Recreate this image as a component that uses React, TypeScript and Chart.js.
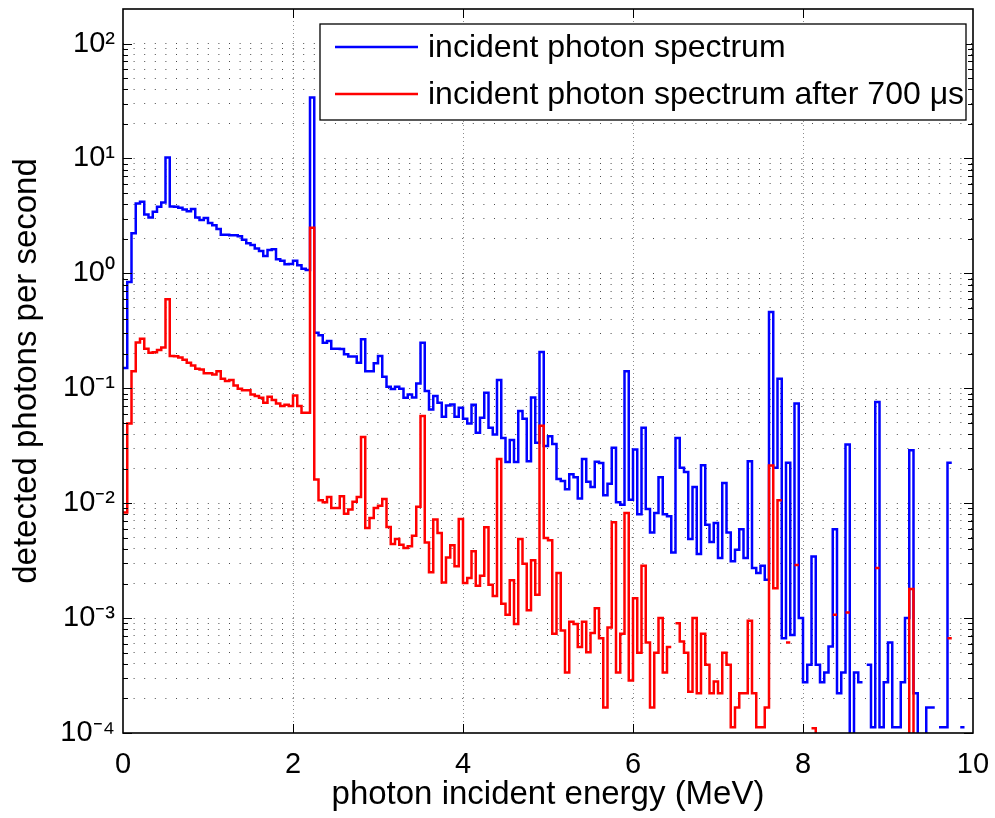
import React, { useEffect, useRef } from 'react';
import { Chart, registerables } from 'chart.js';

Chart.register(...registerables);

// ---- data (bin width 0.05 MeV, 200 bins from 0 to 10 MeV) ----
const BIN_WIDTH_MEV = 0.05;

const INCIDENT_SPECTRUM: (number | null)[] = [
  0.15, 0.84, 2.23, 4.06, 4.2, 3.26, 3.07, 3.44, 3.8, 4.15,
  10.2, 3.83, 3.8, 3.72, 3.6, 3.47, 3.63, 3.07, 2.91, 3.03,
  2.74, 2.63, 2.43, 2.17, 2.17, 2.15, 2.15, 2.1, 1.96, 1.83,
  1.77, 1.65, 1.57, 1.42, 1.6, 1.62, 1.33, 1.29, 1.2, 1.21,
  1.29, 1.18, 1.1, 1.07, 34, 0.305, 0.289, 0.249, 0.258, 0.221,
  0.221, 0.22, 0.198, 0.189, 0.189, 0.167, 0.267, 0.141, 0.141, 0.165,
  0.191, 0.126, 0.103, 0.0987, 0.103, 0.099, 0.0828, 0.0884, 0.083, 0.11,
  0.249, 0.0946, 0.0654, 0.0857, 0.075, 0.0565, 0.071, 0.0724, 0.0565, 0.0677,
  0.0543, 0.0494, 0.072, 0.041, 0.0554, 0.0916, 0.0453, 0.0396, 0.118, 0.037,
  0.0228, 0.0354, 0.0228, 0.0634, 0.0543, 0.0232, 0.083, 0.0336, 0.207, 0.0314,
  0.0383, 0.0327, 0.0162, 0.0156, 0.0132, 0.0179, 0.0168, 0.011, 0.0242, 0.0154,
  0.0138, 0.0229, 0.0224, 0.0117, 0.0148, 0.0304, 0.0102, 0.0097, 0.141, 0.0107,
  0.0293, 0.008, 0.0453, 0.0089, 0.00557, 0.0082, 0.0168, 0.008, 0.0077, 0.00373,
  0.037, 0.0203, 0.0187, 0.00488, 0.0138, 0.00361, 0.0214, 0.0065, 0.0046, 0.00673,
  0.00333, 0.015, 0.00557, 0.00312, 0.00394, 0.00593, 0.00333, 0.0232, 0.00273, 0.00247,
  0.00286, 0.00216, 0.461, 0.0203, 0.121, 0.000668, 0.0225, 0.000714, 0.0738, 0.001,
  0.000277, 0.000392, 0.00344, 0.000392, 0.000277, 0.000336, 0.000566, 0.00593, 0.000222, 0.000336,
  0.0325, 0.00005, 0.000336, 0.000277, null, 0.000392, 0.000112, 0.0758, 0.000112, 0.000277,
  0.000613, 0.000112, 0.000112, 0.000277, 0.001, 0.0289, 0.000222, 0.00005, 0.00005, 0.000167,
  0.000167, null, 0.000112, 0.000112, 0.0225, null, null, 0.000112, null, null,
];

const AFTER_700US_SPECTRUM: (number | null)[] = [
  0.0083, 0.0494, 0.141, 0.25, 0.27, 0.221, 0.204, 0.206, 0.215, 0.226,
  0.596, 0.191, 0.19, 0.185, 0.177, 0.167, 0.158, 0.148, 0.146, 0.135,
  0.135, 0.132, 0.141, 0.121, 0.116, 0.118, 0.106, 0.099, 0.096, 0.096,
  0.0884, 0.0855, 0.0828, 0.0748, 0.0845, 0.0789, 0.0737, 0.07, 0.072, 0.07,
  0.0867, 0.07, 0.0612, 0.0612, 2.5, 0.0161, 0.0106, 0.0102, 0.0113, 0.0091,
  0.0091, 0.0115, 0.0081, 0.0088, 0.0103, 0.0113, 0.0376, 0.00608, 0.00744, 0.0091,
  0.00952, 0.0109, 0.00621, 0.00441, 0.00488, 0.00435, 0.00407, 0.00421, 0.00522, 0.00929,
  0.0573, 0.00456, 0.0025, 0.0072, 0.00551, 0.00204, 0.00337, 0.0043, 0.00282, 0.0073,
  0.00202, 0.00223, 0.00381, 0.00191, 0.00234, 0.00617, 0.00195, 0.00156, 0.0243, 0.00133,
  0.00107, 0.00213, 0.00089, 0.00488, 0.00297, 0.00117, 0.00318, 0.0016, 0.0473, 0.00498,
  0.00475, 0.00073, 0.00247, 0.00078, 0.000336, 0.00093, 0.00089, 0.000559, 0.00093, 0.000505,
  0.00074, 0.00122, 0.000668, 0.000167, 0.00083, 0.00682, 0.000336, 0.00073, 0.0082, 0.000286,
  0.00149, 0.0005, 0.00286, 0.000613, 0.000167, 0.0005, 0.001, 0.000336, 0.000559, null,
  0.0009, 0.000625, 0.0005, 0.000229, 0.001, 0.000222, 0.00073, 0.000392, 0.000222, 0.00028,
  0.000222, 0.0005, 0.000392, 0.000112, 0.000167, 0.000222, 0.000222, 0.00095, 0.000222, 0.000112,
  0.000112, 0.000167, 0.0213, 0.00182, 0.0106, null, 0.000613, null, 0.0029, null,
  null, null, 0.00011, 0.00005, null, null, null, 0.00107, null, null,
  0.00112, null, null, null, null, null, null, 0.00273, null, null,
  null, null, null, null, 0.00003, 0.00179, 0.00003, null, null, null,
  null, null, null, null, 0.000668, null, null, null, null, null,
];

const SERIES_LABELS = ['incident photon spectrum', 'incident photon spectrum after 700 \u03bcs'];
const SERIES_COLORS = ['#0000ff', '#ff0000'];
const X_TICKS = [0, 2, 4, 6, 8, 10];
const Y_DECADES = [-4, -3, -2, -1, 0, 1, 2];
const Y_MIN = 1e-4;
const Y_MAX = 200;
const X_TITLE = 'photon incident energy (MeV)';
const Y_TITLE = 'detected photons per second';

const FONT = '"Liberation Sans", Arial, Helvetica, sans-serif';

const SUP: Record<string, string> = {
  '-': '\u207b', '0': '\u2070', '1': '\u00b9', '2': '\u00b2', '3': '\u00b3',
  '4': '\u2074', '5': '\u2075', '6': '\u2076', '7': '\u2077', '8': '\u2078', '9': '\u2079',
};
const decadeLabel = (e: number) => '10' + String(e).split('').map((c) => SUP[c] || c).join('');

function stairs(values: (number | null)[]) {
  const pts: { x: number; y: number | null }[] = [];
  values.forEach((v, i) => {
    pts.push({ x: i * BIN_WIDTH_MEV, y: v });
    pts.push({ x: (i + 1) * BIN_WIDTH_MEV, y: v });
  });
  return pts;
}

function isDecade(v: number) {
  const l = Math.log10(v);
  return Math.abs(l - Math.round(l)) < 1e-6;
}

const framePlugin = {
  id: 'matlabFrame',
  afterDatasetsDraw(chart: any) {
    const { ctx, chartArea } = chart;
    const { left, right, top, bottom } = chartArea;
    const xs = chart.scales.x;
    const ys = chart.scales.y;
    ctx.save();
    ctx.strokeStyle = '#000';
    ctx.lineWidth = 1;
    ctx.beginPath();
    X_TICKS.forEach((v) => {
      if (v === X_TICKS[0] || v === X_TICKS[X_TICKS.length - 1]) return;
      const px = Math.round(xs.getPixelForValue(v)) + 0.5;
      ctx.moveTo(px, bottom);
      ctx.lineTo(px, bottom - 9);
      ctx.moveTo(px, top);
      ctx.lineTo(px, top + 9);
    });
    ys.ticks.forEach((t: any) => {
      const py = Math.round(ys.getPixelForValue(t.value)) + 0.5;
      const len = isDecade(t.value) ? 9 : 5;
      ctx.moveTo(left, py);
      ctx.lineTo(left + len, py);
      ctx.moveTo(right, py);
      ctx.lineTo(right - len, py);
    });
    ctx.stroke();
    ctx.lineWidth = 1.6;
    ctx.strokeRect(left, top, right - left, bottom - top);
    ctx.restore();
  },
  afterDraw(chart: any) {
    const { ctx } = chart;
    const bx = 320, by = 24, bw = 646, bh = 96;
    ctx.save();
    ctx.fillStyle = '#fff';
    ctx.fillRect(bx, by, bw, bh);
    ctx.strokeStyle = '#000';
    ctx.lineWidth = 1.3;
    ctx.strokeRect(bx, by, bw, bh);
    ctx.font = `32px ${FONT}`;
    ctx.textBaseline = 'middle';
    ctx.textAlign = 'left';
    const rowsY = [47, 94];
    chart.data.datasets.forEach((ds: any, i: number) => {
      const y = rowsY[i];
      ctx.strokeStyle = ds.borderColor;
      ctx.lineWidth = 2.5;
      ctx.beginPath();
      ctx.moveTo(335, y);
      ctx.lineTo(418, y);
      ctx.stroke();
      ctx.fillStyle = '#000';
      ctx.fillText(ds.label, 428, y + 1);
    });
    ctx.restore();
  },
};

export default function App() {
  const canvasRef = useRef<HTMLCanvasElement | null>(null);

  useEffect(() => {
    if (!canvasRef.current) return;
    const yTickValues: number[] = [];
    Y_DECADES.forEach((d) => {
      for (let m = 1; m <= 9; m++) {
        const v = Number((m * Math.pow(10, d)).toPrecision(3));
        if (v >= Y_MIN && v < Y_MAX) yTickValues.push(v);
      }
    });

    const chart = new Chart(canvasRef.current, {
      type: 'line',
      data: {
        datasets: [
          {
            label: SERIES_LABELS[0],
            data: stairs(INCIDENT_SPECTRUM),
            borderColor: SERIES_COLORS[0],
            borderWidth: 2.5,
            pointRadius: 0,
            fill: false,
            spanGaps: false,
            tension: 0,
            order: 1,
          },
          {
            label: SERIES_LABELS[1],
            data: stairs(AFTER_700US_SPECTRUM),
            borderColor: SERIES_COLORS[1],
            borderWidth: 2.5,
            pointRadius: 0,
            fill: false,
            spanGaps: false,
            tension: 0,
            order: 0,
          },
        ],
      },
      options: {
        responsive: false,
        maintainAspectRatio: false,
        animation: false,
        layout: { padding: { top: 9, right: 22, left: 0, bottom: 0 } },
        plugins: {
          legend: { display: false },
          tooltip: { enabled: false },
        },
        scales: {
          x: {
            type: 'linear',
            min: 0,
            max: 10,
            afterFit: (scale: any) => {
              scale.height = 85;
              scale.paddingLeft = 0;
              scale.paddingRight = 0;
            },
            afterBuildTicks: (scale: any) => {
              scale.ticks = X_TICKS.map((v) => ({ value: v }));
            },
            ticks: {
              color: '#000',
              font: { family: FONT, size: 29 },
              padding: 15,
              maxRotation: 0,
              autoSkip: false,
              callback: (v: any) => String(v),
            },
            grid: {
              drawTicks: false,
              lineWidth: 1,
              color: (ctx: any) => {
                const v = ctx.tick ? ctx.tick.value : 0;
                return v > 0 && v < 10 ? 'rgba(0,0,0,0.45)' : 'rgba(0,0,0,0)';
              },
            },
            border: { display: false, dash: [1, 3] },
            title: {
              display: true,
              text: X_TITLE,
              color: '#000',
              font: { family: FONT, size: 33, lineHeight: 1.2 },
              padding: { top: 0, bottom: 3 },
            },
          },
          y: {
            type: 'logarithmic',
            min: Y_MIN,
            max: Y_MAX,
            afterFit: (scale: any) => {
              scale.width = 123;
              scale.paddingTop = 0;
              scale.paddingBottom = 0;
            },
            afterBuildTicks: (scale: any) => {
              scale.ticks = yTickValues.map((v) => ({ value: v, major: isDecade(v) }));
            },
            ticks: {
              color: '#000',
              font: { family: FONT, size: 29 },
              padding: 8,
              autoSkip: false,
              callback: (v: any) => (isDecade(Number(v)) ? decadeLabel(Math.round(Math.log10(Number(v)))) : ''),
            },
            grid: {
              drawTicks: false,
              lineWidth: 1,
              color: (ctx: any) => {
                const v = ctx.tick ? ctx.tick.value : 0;
                return v > Y_MIN * 1.0001 ? 'rgba(0,0,0,0.7)' : 'rgba(0,0,0,0)';
              },
            },
            border: { display: false, dash: [1, 9.6] },
            title: {
              display: true,
              text: Y_TITLE,
              color: '#000',
              font: { family: FONT, size: 33, lineHeight: 1.2 },
              padding: { top: 7, bottom: 0 },
            },
          },
        },
      },
      plugins: [framePlugin],
    } as any);

    return () => chart.destroy();
  }, []);

  return (
    <div style={{ position: 'fixed', left: 0, top: 0, width: 995, height: 818, background: '#fff' }}>
      <canvas ref={canvasRef} width={995} height={818} style={{ display: 'block' }} />
    </div>
  );
}
